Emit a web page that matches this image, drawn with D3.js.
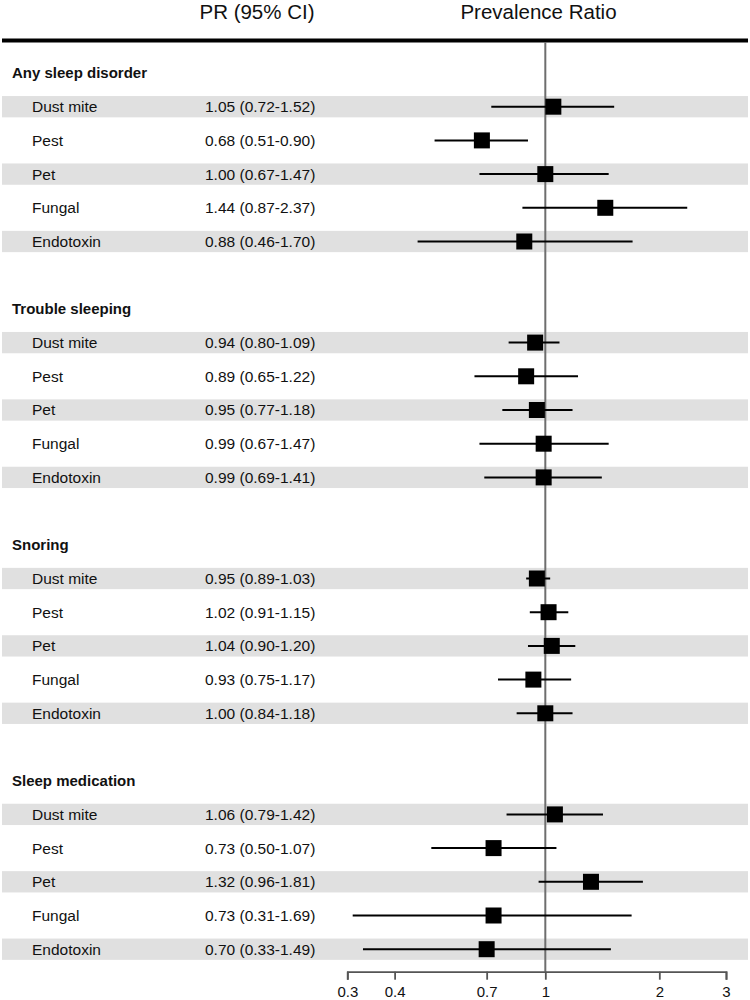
<!DOCTYPE html>
<html>
<head>
<meta charset="utf-8">
<script src="https://cdn.jsdelivr.net/npm/d3@7"></script>
<style>
	html, body { margin: 0; padding: 0; background: #fff; }
	svg { display: block; font-family: "Liberation Sans", Arial, sans-serif; }
</style>
</head>
<body>
<div id="chart"></div>
<script>
// outcome groups and exposures
const groups = ['Any sleep disorder', 'Trouble sleeping', 'Snoring', 'Sleep medication'];
const exposures = ['Dust mite', 'Pest', 'Pet', 'Fungal', 'Endotoxin'];

// prevalence ratios and 95% CI, one row per group (same order as exposures)
const pr = [
	[1.05, 0.68, 1.00, 1.44, 0.88],
	[0.94, 0.89, 0.95, 0.99, 0.99],
	[0.95, 1.02, 1.04, 0.93, 1.00],
	[1.06, 0.73, 1.32, 0.73, 0.70]
];
const lower = [
	[0.72, 0.51, 0.67, 0.87, 0.46],
	[0.80, 0.65, 0.77, 0.67, 0.69],
	[0.89, 0.91, 0.90, 0.75, 0.84],
	[0.79, 0.50, 0.96, 0.31, 0.33]
];
const upper = [
	[1.52, 0.90, 1.47, 2.37, 1.70],
	[1.09, 1.22, 1.18, 1.47, 1.41],
	[1.03, 1.15, 1.20, 1.17, 1.18],
	[1.42, 1.07, 1.81, 1.69, 1.49]
];

const tickValues = [0.3, 0.4, 0.7, 1, 2, 3];

(() => {
	const width = 750,
		height = 1000,
		step = 33.7,
		firstRow = 73,
		bandH = 21.3,
		boxSize = 16,
		fontSize = 15.5;

	// flatten into rows: header, 5 exposures, blank spacer
	let rows = [];
	groups.forEach((g, gi) => {
		rows.push({ type: 'header', label: g });
		exposures.forEach((e, ei) => {
			rows.push({
				type: 'item',
				label: e,
				idx: ei,
				pr: pr[gi][ei],
				lo: lower[gi][ei],
				hi: upper[gi][ei]
			});
		});
		if (gi < groups.length - 1) rows.push({ type: 'blank' });
	});
	rows.forEach((r, i) => r.i = i);

	const x = d3.scaleLog().domain([0.3, 3]).range([347.3, 726]);
	const y = d3.scaleLinear().domain([0, 1]).range([firstRow, firstRow + step]);

	const svg = d3.select('#chart').append('svg')
		.attr('width', width)
		.attr('height', height);

	const items = rows.filter((r) => r.type === 'item');
	const fmt = d3.format('.2f');

	// grey bands on alternating rows
	svg.append('g').selectAll('rect')
		.data(items.filter((d) => d.idx % 2 === 0))
		.enter()
		.append('rect')
		.attr('x', 2)
		.attr('width', 746)
		.attr('y', (d) => y(d.i) - bandH / 2)
		.attr('height', bandH)
		.style('fill', '#e0e0e0');

	// column headers
	svg.append('text')
		.attr('x', 257)
		.attr('y', 19)
		.style('text-anchor', 'middle')
		.style('font-size', '20.5px')
		.style('fill', '#111')
		.text('PR (95% CI)');

	svg.append('text')
		.attr('x', 538.5)
		.attr('y', 19)
		.style('text-anchor', 'middle')
		.style('font-size', '20.5px')
		.style('fill', '#111')
		.text('Prevalence Ratio');

	svg.append('line')
		.attr('x1', 2)
		.attr('x2', 748)
		.attr('y1', 40.5)
		.attr('y2', 40.5)
		.style('stroke', '#000')
		.style('stroke-width', 3.8);

	// group headers
	svg.append('g').selectAll('text')
		.data(rows.filter((r) => r.type === 'header'))
		.enter()
		.append('text')
		.attr('x', 12)
		.attr('y', (d) => y(d.i))
		.attr('dy', '0.35em')
		.style('font-size', '15px')
		.style('font-weight', 'bold')
		.style('fill', '#111')
		.text((d) => d.label);

	// exposure labels and estimates
	const rowText = svg.append('g').selectAll('g')
		.data(items)
		.enter()
		.append('g');

	rowText.append('text')
		.attr('x', 32)
		.attr('y', (d) => y(d.i))
		.attr('dy', '0.35em')
		.style('font-size', fontSize + 'px')
		.style('fill', '#111')
		.text((d) => d.label);

	rowText.append('text')
		.attr('x', 205)
		.attr('y', (d) => y(d.i))
		.attr('dy', '0.35em')
		.style('font-size', fontSize + 'px')
		.style('fill', '#111')
		.text((d) => `${fmt(d.pr)} (${fmt(d.lo)}-${fmt(d.hi)})`);

	// reference line at PR = 1
	const axisY = 971.7;
	svg.append('line')
		.attr('x1', x(1))
		.attr('x2', x(1))
		.attr('y1', 42)
		.attr('y2', axisY)
		.style('stroke', '#6e6e6e')
		.style('stroke-width', 2);

	// CI whiskers and point boxes
	const marks = svg.append('g').selectAll('g')
		.data(items)
		.enter()
		.append('g');

	marks.append('line')
		.attr('x1', (d) => x(d.lo))
		.attr('x2', (d) => x(d.hi))
		.attr('y1', (d) => y(d.i))
		.attr('y2', (d) => y(d.i))
		.style('stroke', '#000')
		.style('stroke-width', 2);

	marks.append('rect')
		.attr('x', (d) => x(d.pr) - boxSize / 2)
		.attr('y', (d) => y(d.i) - boxSize / 2)
		.attr('width', boxSize)
		.attr('height', boxSize)
		.style('fill', '#000');

	// x axis
	const axis = svg.append('g')
		.attr('transform', `translate(0,${axisY})`)
		.call(d3.axisBottom(x)
			.tickValues(tickValues)
			.tickFormat((d) => d)
			.tickSize(8)
			.tickSizeOuter(8)
			.tickPadding(7));

	axis.select('.domain')
		.style('stroke', '#555')
		.style('stroke-width', 1.8);
	axis.selectAll('.tick line')
		.style('stroke', '#555')
		.style('stroke-width', 1.8);
	axis.selectAll('.tick text')
		.style('font-size', '15px')
		.style('font-family', '"Liberation Sans", Arial, sans-serif')
		.style('fill', '#111');
})();
</script>
</body>
</html>
